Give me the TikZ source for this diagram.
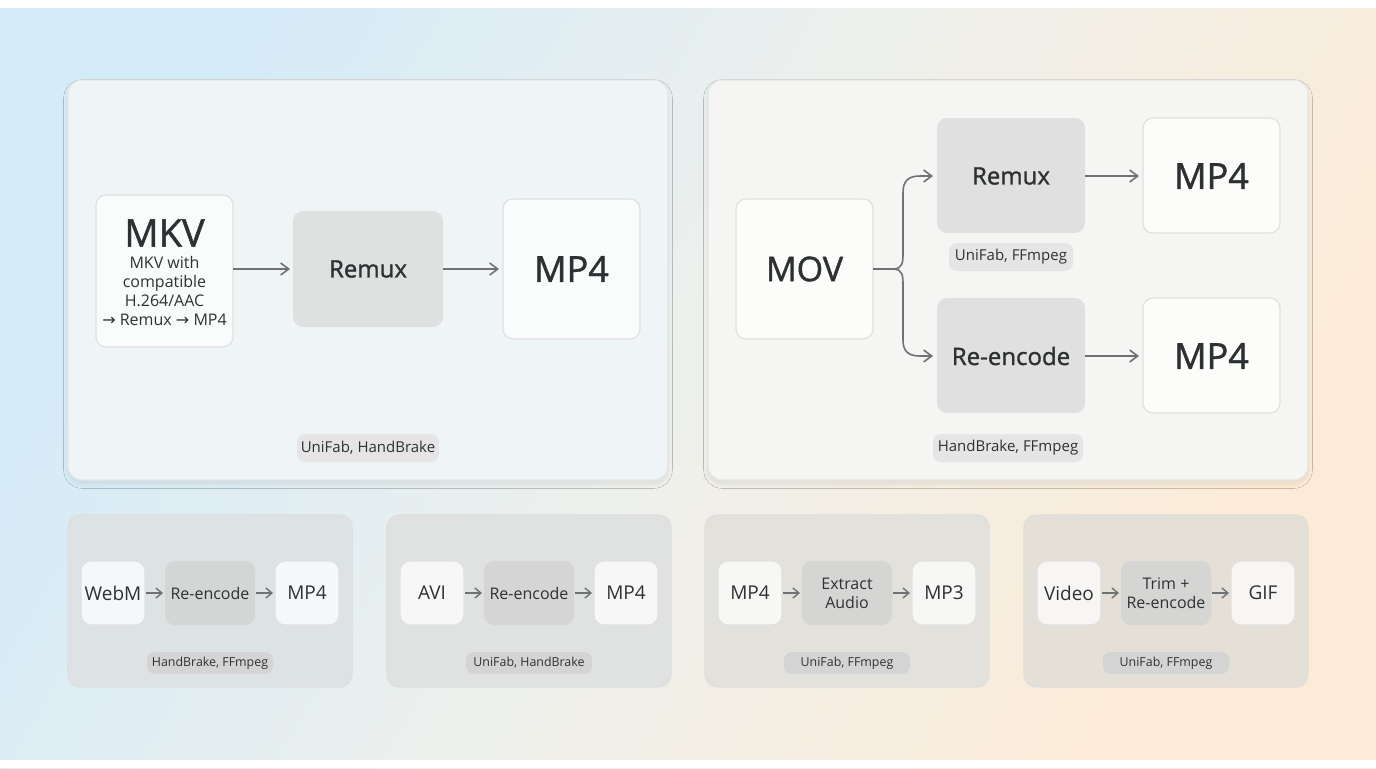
\documentclass[tikz,border=0pt]{standalone}
\usepackage{fontspec}
\setmainfont{Open Sans}
\newfontfamily\med{Open Sans}[FakeBold=1.2]
\newfontfamily\sym{DejaVu Sans}
\usetikzlibrary{arrows.meta,shadows.blur}
\definecolor{txt}{HTML}{2E3133}
\definecolor{arr}{HTML}{6E7275}
\definecolor{bgA}{HTML}{D4EBF8}
\definecolor{bgB}{HTML}{FCEBD6}
\definecolor{bgM}{HTML}{EEF0EC}
\definecolor{p1}{HTML}{EFF4F7}
\definecolor{p2}{HTML}{F5F5F3}
\begin{document}
\begin{tikzpicture}[x=0.5pt,y=-0.5pt,
  panel/.style={draw=black!10,line width=0.6pt,rounded corners=7pt,blur shadow={shadow blur steps=6,shadow xshift=0pt,shadow yshift=-2pt,shadow opacity=8}},
  spanel/.style={draw=black!13,line width=0.6pt,rounded corners=6pt},
  wbox/.style={draw=black!12,line width=0.6pt,rounded corners=5pt,fill=white,fill opacity=0.75,text opacity=1,text=txt},
  gbox/.style={rounded corners=5pt,fill=black!13,fill opacity=0.9,text opacity=1,text=txt},
  tag/.style={rounded corners=4pt,fill=black!10,text=txt,inner sep=0pt},
  ar/.style={-{Straight Barb[length=4pt,width=6pt]},draw=arr,line width=0.8pt},
  lbl/.style={text=txt,inner sep=0pt,align=center}]
\useasboundingbox (0,0) rectangle (1376,768);
\shade[top color=bgA,bottom color=bgB,middle color=bgM,shading angle=60] (0,0) rectangle (1376,768);
\fill[white] (0,0) rectangle (1376,8);
\fill[white] (0,760) rectangle (1376,768);
% big panels
\path[panel,fill=p1] (68,80) rectangle (668,480);
\path[panel,fill=p2] (708,80) rectangle (1308,480);
% panel 1
\path[wbox] (96,195) rectangle (233,347);
\node[lbl,font=\med\fontsize{19}{22}\selectfont] (mkv) at (164.5,233) {MKV};
\node[lbl,font=\fontsize{8}{9.6}\selectfont] (mkvt) at (164.5,291) {MKV with\\compatible\\H.264/AAC\\{\sym→} Remux {\sym→} MP4};
\coordinate (mkvR) at (233,269);
\path[gbox] (293,211) rectangle (443,327);
\node[lbl,font=\med\fontsize{12}{14}\selectfont] (rem1) at (368,269) {Remux};
\path[wbox] (503,199) rectangle (640,339);
\node[lbl,font=\med\fontsize{18}{21}\selectfont] (mp41) at (571.5,269) {MP4};
\path[tag] (297,434) rectangle (439,462);
\node[lbl,font=\fontsize{7.5}{9}\selectfont] (t1) at (368,448) {UniFab, HandBrake};
\draw[ar] (mkvR) -- (290,269);
\draw[ar] (443,269) -- (499,269);
% panel 2
\path[wbox] (736,199) rectangle (873,339);
\node[lbl,font=\med\fontsize{17}{20}\selectfont] (mov) at (804.5,269) {MOV};
\path[gbox] (937,118) rectangle (1085,233);
\node[lbl,font=\med\fontsize{12}{14}\selectfont] (rem2) at (1011,176) {Remux};
\path[wbox] (1143,118) rectangle (1280,233);
\node[lbl,font=\med\fontsize{18}{21}\selectfont] (mp42) at (1211.5,176) {MP4};
\path[tag] (949,243) rectangle (1073,271);
\node[lbl,font=\fontsize{7.5}{9}\selectfont] (t2) at (1011,257) {UniFab, FFmpeg};
\path[gbox] (937,298) rectangle (1085,413);
\node[lbl,font=\med\fontsize{12}{14}\selectfont] (re2) at (1011,356) {Re-encode};
\path[wbox] (1143,298) rectangle (1280,413);
\node[lbl,font=\med\fontsize{18}{21}\selectfont] (mp43) at (1211.5,356) {MP4};
\path[tag] (933,434) rectangle (1083,462);
\node[lbl,font=\fontsize{7.5}{9}\selectfont] (t3) at (1008,448) {HandBrake, FFmpeg};
\coordinate (movR) at (873,269);
\draw[ar] (movR) -- (893,269) .. controls (903,269) and (903,262) .. (903,252) -- (903,193) .. controls (903,181) and (908,176) .. (920,176) -- (933,176);
\draw[ar] (893,269) .. controls (903,269) and (903,276) .. (903,286) -- (903,340) .. controls (903,351) and (908,356) .. (920,356) -- (933,356);
\draw[ar] (1085,176) -- (1139,176);
\draw[ar] (1085,356) -- (1139,356);
% small panels
\foreach \dx/\a/\b/\c/\t/\col [count=\i] in {0/WebM/Re-encode/MP4/{HandBrake, FFmpeg}/DDE2E4,319/AVI/Re-encode/MP4/{UniFab, HandBrake}/E0E2E1,637/MP4/{Extract\\Audio}/MP3/{UniFab, FFmpeg}/E3E1DC,956/Video/{Trim +\\Re-encode}/GIF/{UniFab, FFmpeg}/E4DFD7}{
  \begin{scope}[xshift=\dx*0.5pt]
  \definecolor{pc}{HTML}{\col}
  \path[spanel,fill=pc] (68,515) rectangle (352,687);
  \path[wbox] (81,561) rectangle (145,625);
  \node[lbl,font=\fontsize{9.5}{11}\selectfont] (sa\i) at (113,593) {\a};
  \path[gbox,fill=black!17] (165,561) rectangle (255,625);
  \node[lbl,font=\fontsize{8}{9.5}\selectfont] (sb\i) at (210,593) {\b};
  \path[wbox] (275,561) rectangle (339,625);
  \node[lbl,font=\fontsize{9.5}{11}\selectfont] (sc\i) at (307,593) {\c};
  \draw[ar,line width=0.7pt,-{Straight Barb[length=3pt,width=5pt]}] (146,593) -- (163,593);
  \draw[ar,line width=0.7pt,-{Straight Barb[length=3pt,width=5pt]}] (256,593) -- (273,593);
  \node[tag,fill=black!17,minimum width=126*0.5pt,minimum height=22*0.5pt,font=\fontsize{6.2}{7}\selectfont] (st\i) at (210,663) {\t};
  \end{scope}}
\end{tikzpicture}
\end{document}
